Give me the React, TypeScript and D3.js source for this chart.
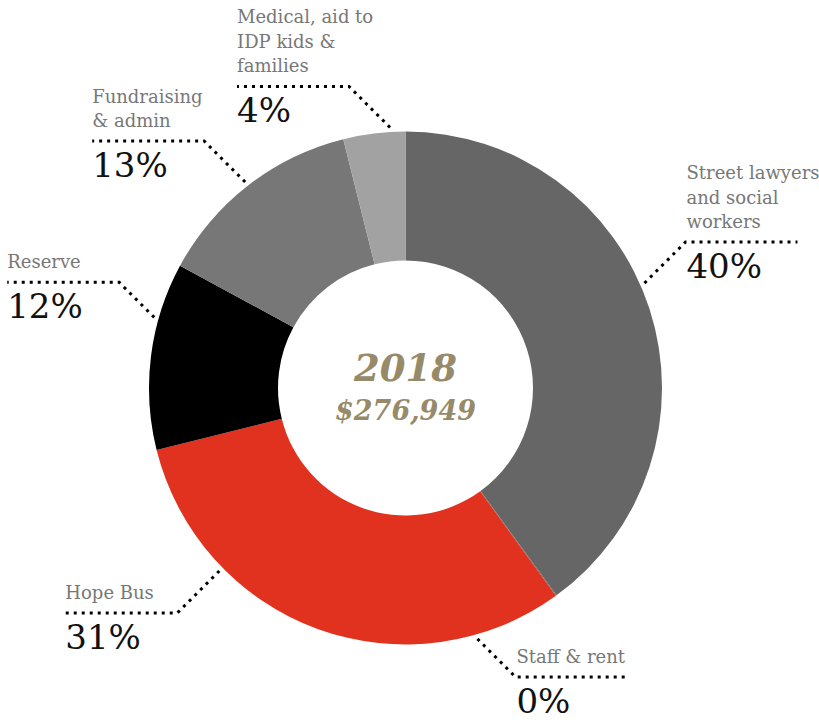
import React from 'react';
import * as d3 from 'd3';

const width = 819;
const height = 722;
const cx = 405.5;
const cy = 388;
const outerR = 256.5;
const innerR = 127.5;
const font = "Georgia, 'DejaVu Serif', serif";

// slices, clockwise from 12 o'clock
const categories = [
  'Street lawyers and social workers',
  'Staff & rent',
  'Hope Bus',
  'Reserve',
  'Fundraising & admin',
  'Medical, aid to IDP kids & families',
];
const shares = [40.0, 0.05, 31.1, 11.8, 13.2, 3.9];
const percentLabels = ['40%', '0%', '31%', '12%', '13%', '4%'];
const labelLines = [
  ['Street lawyers', 'and social', 'workers'],
  ['Staff & rent'],
  ['Hope Bus'],
  ['Reserve'],
  ['Fundraising', '& admin'],
  ['Medical, aid to', 'IDP kids &', 'families'],
];
const colors = ['#666666', '#666666', '#e0321f', '#000000', '#777777', '#a2a2a2'];
// where each leader line touches the ring, degrees clockwise from top
const leaderAngles = [66.3, 164, 225.5, 285.7, 322.1, 356.6];
const leaderDiag = [41, 38, 42, 35, 41, 41];

const year = '2018';
const total = '$276,949';

const leaderR = 261;
const run = 112;
const lineGap = 24.5;

const App: React.FC = () => {
  const pie = d3.pie<number>().sort(null).value(d => d);
  const arcs = pie(shares);
  const arc = d3.arc<d3.PieArcDatum<number>>().innerRadius(innerR).outerRadius(outerR);

  return (
    <svg width={width} height={height} style={{position: 'absolute', left: 0, top: 0}}>
      <g transform={`translate(${cx},${cy})`}>
        {arcs.map((a, i) => (
          <path key={categories[i]} d={arc(a) || ''} fill={colors[i]} />
        ))}
      </g>
      {categories.map((c, i) => {
        const ang = (leaderAngles[i] * Math.PI) / 180;
        const [px, py] = d3.pointRadial(ang, leaderR);
        const sx = px >= 0 ? 1 : -1;
        const sy = py >= 0 ? 1 : -1;
        const x0 = cx + px;
        const y0 = cy + py;
        const ex = x0 + sx * leaderDiag[i];
        const ey = y0 + sy * leaderDiag[i];
        const hx = ex + sx * run;
        const textX = sx > 0 ? ex + 1 : hx;
        const lines = labelLines[i];
        const path = d3.path();
        path.moveTo(x0, y0);
        path.lineTo(ex, ey);
        path.lineTo(hx, ey);
        return (
          <g key={c}>
            <path d={path.toString()} fill="none" stroke="#000" strokeWidth={3} strokeDasharray="3 5" />
            {lines.map((t, j) => (
              <text key={j} x={textX} y={ey - 14 - (lines.length - 1 - j) * lineGap}
                fontFamily={font} fontSize={18} fill="#777">{t}</text>
            ))}
            <text x={textX} y={ey + 36} fontFamily={font} fontSize={34} fill="#111">{percentLabels[i]}</text>
          </g>
        );
      })}
      <text x={cx} y={cy - 7} textAnchor="middle" fontFamily={font} fontSize={37}
        fontWeight="bold" fontStyle="italic" fill="#968a69">{year}</text>
      <text x={cx} y={cy + 32} textAnchor="middle" fontFamily={font} fontSize={27}
        fontWeight="bold" fontStyle="italic" fill="#968a69">{total}</text>
    </svg>
  );
};

export default App;
